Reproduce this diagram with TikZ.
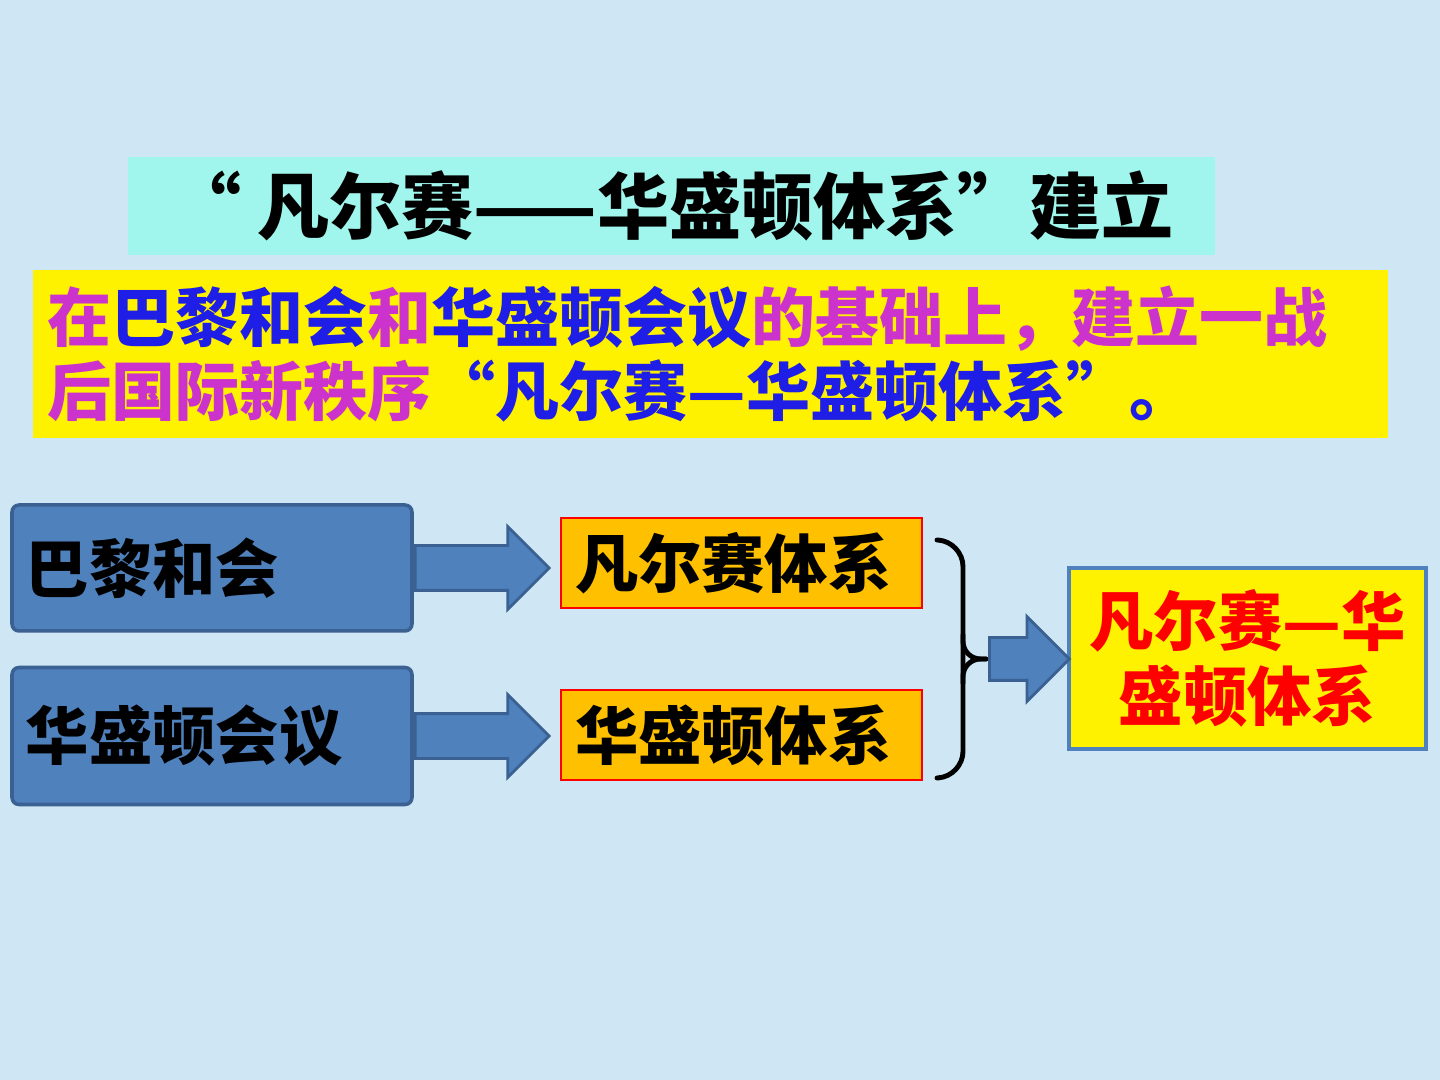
\documentclass[tikz,border=0pt]{standalone}
\usepackage{fontspec}
\setmainfont{Noto Sans CJK SC}[BoldFont={Noto Sans CJK SC Black}]
\usetikzlibrary{positioning,shapes.arrows}

\definecolor{bgblue}{RGB}{207,231,245}
\definecolor{titlecyan}{RGB}{160,246,236}
\definecolor{notemagenta}{RGB}{204,51,204}
\definecolor{noteblue}{RGB}{30,30,230}
\definecolor{meetfill}{RGB}{79,129,189}
\definecolor{meetedge}{RGB}{58,97,145}
\definecolor{sysorange}{RGB}{255,192,0}

\newcommand{\magtxt}[1]{\textcolor{notemagenta}{#1}}
\newcommand{\bluetxt}[1]{\textcolor{noteblue}{#1}}

\begin{document}
\begin{tikzpicture}[
			titlebox/.style={
				fill=titlecyan,
				minimum width=10.87cm,
				minimum height=0.98cm,
				inner sep=0pt,
				font=\fontsize{20.5pt}{24pt}\selectfont\bfseries
			},
			notebox/.style={
				fill=yellow,
				minimum height=1.68cm,
				text width=13.25cm,
				inner xsep=0.15cm,
				align=left,
				font=\fontsize{18.2pt}{21.3pt}\selectfont\bfseries
			},
			meetbox/.style={
				draw=meetedge,
				line width=1pt,
				fill=meetfill,
				rounded corners=2pt,
				text width=3.72cm,
				inner xsep=0.14cm,
				align=left,
				font=\fontsize{18pt}{21pt}\selectfont\bfseries
			},
			sysbox/.style={
				draw=red,
				line width=0.6pt,
				fill=sysorange,
				minimum height=0.9cm,
				text width=3.33cm,
				inner xsep=0.14cm,
				align=left,
				font=\fontsize{18pt}{21pt}\selectfont\bfseries
			},
			resultbox/.style={
				draw=meetfill,
				line width=1pt,
				fill=yellow,
				minimum width=3.57cm,
				minimum height=1.81cm,
				align=center,
				text=red,
				font=\fontsize{18.3pt}{21.3pt}\selectfont\bfseries
			},
			blockarrow/.style={
				single arrow,
				draw=meetedge,
				fill=meetfill,
				line width=0.8pt,
				inner sep=0pt,
				text width=0pt,
				text depth=0pt,
				single arrow tip angle=90,
				single arrow head indent=0pt,
				anchor=tail
			},
			bracepen/.style={
				line width=1.4pt,
				line cap=round
			}
			]
			
			%%%%%%%%%%%%%%%%%%%%%%%%%%%%%%%%%%%%%%%%%%%%%%%%%%%%%%%%%%%%
			% Background
			%%%%%%%%%%%%%%%%%%%%%%%%%%%%%%%%%%%%%%%%%%%%%%%%%%%%%%%%%%%%
			
			\fill[bgblue] (0,0) rectangle (14.4,10.8);
			\useasboundingbox (0,0) rectangle (14.4,10.8);
			
			%%%%%%%%%%%%%%%%%%%%%%%%%%%%%%%%%%%%%%%%%%%%%%%%%%%%%%%%%%%%
			% Heading
			%%%%%%%%%%%%%%%%%%%%%%%%%%%%%%%%%%%%%%%%%%%%%%%%%%%%%%%%%%%%
			
			\node[titlebox] (title) at (6.715,8.74)
			{“ 凡尔赛——华盛顿体系”建立};
			
			\node[notebox] (note) at (7.105,7.26)
			{\magtxt{在}\bluetxt{巴黎和会}\magtxt{和}\bluetxt{华盛顿会议}\magtxt{的基础上，建立一战}\\
			 \magtxt{后国际新秩序}\bluetxt{“凡尔赛—华盛顿体系”。}};
			
			%%%%%%%%%%%%%%%%%%%%%%%%%%%%%%%%%%%%%%%%%%%%%%%%%%%%%%%%%%%%
			% Conferences
			%%%%%%%%%%%%%%%%%%%%%%%%%%%%%%%%%%%%%%%%%%%%%%%%%%%%%%%%%%%%
			
			\node[meetbox, minimum height=1.26cm] (paris) at (2.12,5.12)
			{巴黎和会};
			
			\node[meetbox, minimum height=1.37cm] (washington) [below=0.33cm of paris]
			{华盛顿会议};
			
			%%%%%%%%%%%%%%%%%%%%%%%%%%%%%%%%%%%%%%%%%%%%%%%%%%%%%%%%%%%%
			% Systems
			%%%%%%%%%%%%%%%%%%%%%%%%%%%%%%%%%%%%%%%%%%%%%%%%%%%%%%%%%%%%
			
			\node[sysbox] (versailles) at (7.415,5.17)
			{凡尔赛体系};
			
			\node[sysbox] (washsys) [below=0.8cm of versailles]
			{华盛顿体系};
			
			\node[resultbox] (result) at (12.475,4.215)
			{凡尔赛—华\\盛顿体系};
			
			%%%%%%%%%%%%%%%%%%%%%%%%%%%%%%%%%%%%%%%%%%%%%%%%%%%%%%%%%%%%
			% Arrows
			%%%%%%%%%%%%%%%%%%%%%%%%%%%%%%%%%%%%%%%%%%%%%%%%%%%%%%%%%%%%
			
			\node[blockarrow, minimum height=1.34cm, text height=0.42cm,
			single arrow head extend=0.19cm] (arrparis) at (paris.east) {};
			
			\node[blockarrow, minimum height=1.34cm, text height=0.42cm,
			single arrow head extend=0.19cm] (arrwash) at (washington.east) {};
			
			% Bracket
			
			\coordinate (bracetop) at (9.37,5.40);
			\coordinate (bracebot) at (9.37,3.02);
			\coordinate (bracetip) at (9.88,4.21);
			
			\draw[bracepen, rounded corners=7pt]
			(bracetop) -- (9.63,5.38) -- (9.63,4.21) -- (9.63,3.04) -- (bracebot);
			\draw[bracepen, rounded corners=5pt] (9.63,4.45) |- (9.86,4.21);
			\draw[bracepen, rounded corners=5pt] (9.63,3.97) |- (9.86,4.21);
			
			\node[blockarrow, minimum height=0.8cm, text height=0.40cm,
			single arrow head extend=0.21cm] (arrresult) at (bracetip) {};
			
			%%%%%%%%%%%%%%%%%%%%%%%%%%%%%%%%%%%%%%%%%%%%%%%%%%%%%%%%%%%%
			
		\end{tikzpicture}
\end{document}
